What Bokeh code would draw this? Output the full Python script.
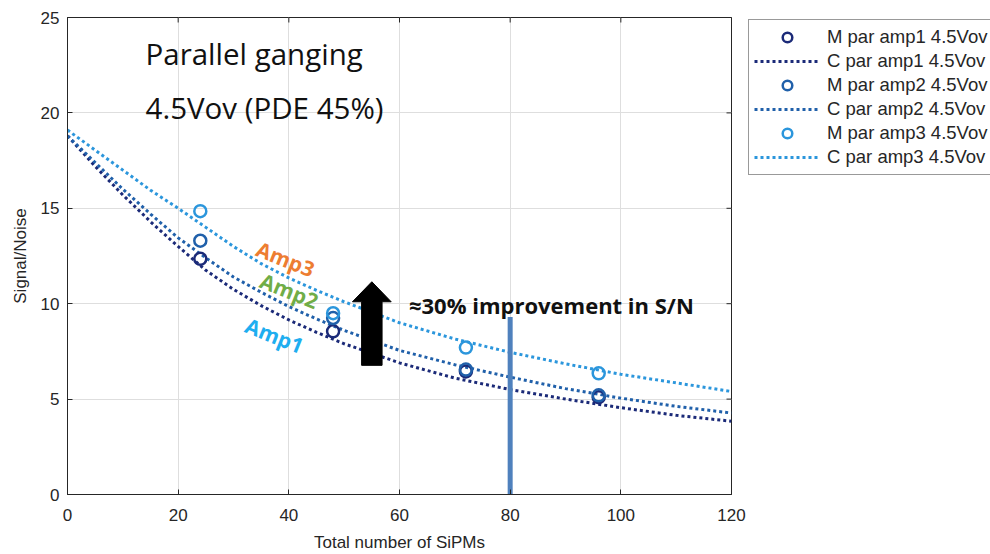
from bokeh.plotting import figure
from bokeh.layouts import row
from bokeh.models import Range1d, Label, Legend, LegendItem, FixedTicker
from bokeh.embed import file_html
from bokeh.resources import INLINE

# ---------------- data ----------------
x_ticks = [0, 20, 40, 60, 80, 100, 120]
y_ticks = [0, 5, 10, 15, 20, 25]

meas_x = [24, 48, 72, 96]
amp1_meas = [12.35, 8.55, 6.45, 5.1]
amp2_meas = [13.3, 9.25, 6.55, 5.2]
amp3_meas = [14.85, 9.5, 7.7, 6.35]

curve_x = [0, 5, 10, 15, 20, 25, 30, 35, 40, 45, 50, 60, 70, 80, 90, 100, 110, 120]
amp1_curve = [18.8, 17.2, 15.7, 14.3, 13.0, 11.75, 10.75, 9.9, 9.15, 8.5, 7.9, 6.9, 6.1, 5.5, 5.0, 4.55, 4.15, 3.84]
amp2_curve = [18.8, 17.4, 16.0, 14.7, 13.45, 12.4, 11.4, 10.6, 9.85, 9.2, 8.6, 7.55, 6.8, 6.15, 5.55, 5.05, 4.62, 4.27]
amp3_curve = [19.1, 18.05, 17.0, 15.95, 15.0, 14.0, 13.0, 12.1, 11.35, 10.7, 10.1, 9.0, 8.15, 7.45, 6.85, 6.3, 5.85, 5.4]

labels_m = ["M par amp1 4.5Vov", "M par amp2 4.5Vov", "M par amp3 4.5Vov"]
labels_c = ["C par amp1 4.5Vov", "C par amp2 4.5Vov", "C par amp3 4.5Vov"]
colors = ["#1b2a78", "#2060aa", "#2b96dc"]

marker_line_x = 80
marker_line_top = 9.3
arrow_x, arrow_y0, arrow_yb, arrow_yt = 55, 6.77, 10.1, 11.15
arrow_shaft_hw, arrow_head_hw = 1.85, 3.5

axis_color = "#262626"
MARKER_SIZE = 12
MARKER_LW = 2.5
CURVE_LW = 3
CURVE_DASH = "3 3"

# ---------------- main figure ----------------
p = figure(width=748, height=554, x_range=Range1d(0, 120), y_range=Range1d(0, 25),
           output_backend="svg", toolbar_location=None,
           min_border_left=67, min_border_right=17, min_border_top=17, min_border_bottom=57)
p.background_fill_color = "white"
p.border_fill_color = "white"
p.outline_line_color = axis_color
p.outline_line_width = 1

for ax in (p.xaxis[0], p.yaxis[0]):
    ax.axis_line_color = axis_color
    ax.major_tick_line_color = axis_color
    ax.major_tick_in = 5
    ax.major_tick_out = 0
    ax.minor_tick_line_color = None
    ax.major_label_text_font = "Liberation Sans"
    ax.major_label_text_font_size = "17px"
    ax.major_label_text_color = axis_color
    ax.axis_label_text_font = "Liberation Sans"
    ax.axis_label_text_font_size = "17px"
    ax.axis_label_text_font_style = "normal"
    ax.axis_label_text_color = axis_color

p.xaxis.ticker = FixedTicker(ticks=x_ticks)
p.yaxis.ticker = FixedTicker(ticks=y_ticks)
p.xaxis.axis_label = "Total number of SiPMs"
p.yaxis.axis_label = "Signal/Noise"
p.xaxis.major_label_standoff = 14
p.xaxis.axis_label_standoff = 9
p.yaxis.major_label_standoff = 8
p.yaxis.axis_label_standoff = 8

p.xgrid.ticker = FixedTicker(ticks=x_ticks)
p.ygrid.ticker = FixedTicker(ticks=y_ticks)
p.grid.grid_line_color = "#dedede"
p.grid.grid_line_width = 1

# inward ticks on the top and right edges (half of each dash is clipped by the frame)
p.scatter([x_ticks[-1]] * len(y_ticks), y_ticks, marker="dash", size=10, line_color=axis_color, line_width=1)
p.scatter(x_ticks, [y_ticks[-1]] * len(x_ticks), marker="dash", angle=1.5708, size=10,
          line_color=axis_color, line_width=1)

curves = [amp1_curve, amp2_curve, amp3_curve]
meas = [amp1_meas, amp2_meas, amp3_meas]
for i in range(3):
    p.line(curve_x, curves[i], line_color=colors[i], line_width=CURVE_LW, line_dash=CURVE_DASH)
for i in range(3):
    p.scatter(meas_x, meas[i], marker="circle", size=MARKER_SIZE, fill_color=None,
              line_color=colors[i], line_width=MARKER_LW)

# vertical marker line at 80
p.segment(x0=[marker_line_x], y0=[0], x1=[marker_line_x], y1=[marker_line_top],
          line_color="#4f81bd", line_width=5)

# black arrow
ax_ = arrow_x
p.patch([ax_ - arrow_shaft_hw, ax_ + arrow_shaft_hw, ax_ + arrow_shaft_hw, ax_ + arrow_head_hw,
         ax_, ax_ - arrow_head_hw, ax_ - arrow_shaft_hw],
        [arrow_y0, arrow_y0, arrow_yb, arrow_yb, arrow_yt, arrow_yb, arrow_yb],
        fill_color="black", line_color="black")

# annotations
p.add_layout(Label(x=14.1, y=23.1, text="Parallel ganging", text_font="Open Sans",
                   text_font_size="29.5px", text_color="#111111", text_baseline="alphabetic"))
p.add_layout(Label(x=14.1, y=20.28, text="4.5Vov (PDE 45%)", text_font="Open Sans",
                   text_font_size="29.5px", text_color="#111111", text_baseline="alphabetic"))
p.add_layout(Label(x=61.7, y=9.95, text="≈30% improvement in S/N", text_font="Open Sans",
                   text_font_size="22px", text_font_style="bold", text_color="#111111",
                   text_baseline="alphabetic"))
amp_angle = -0.38
p.add_layout(Label(x=39.4, y=12.34, text="Amp3", text_font="Open Sans", text_font_size="21px",
                   text_font_style="bold", text_color="#ed7d31", angle=amp_angle,
                   text_align="center", text_baseline="middle"))
p.add_layout(Label(x=40.1, y=10.68, text="Amp2", text_font="Open Sans", text_font_size="21px",
                   text_font_style="bold", text_color="#70ad47", angle=amp_angle,
                   text_align="center", text_baseline="middle"))
p.add_layout(Label(x=37.4, y=8.33, text="Amp1", text_font="Open Sans", text_font_size="21px",
                   text_font_style="bold", text_color="#1eaef0", angle=amp_angle,
                   text_align="center", text_baseline="middle"))

# ---------------- legend panel ----------------
# proxy renderers carry the same data, but the ranges keep them out of view
lf = figure(width=242, height=554, x_range=Range1d(1000, 1001), y_range=Range1d(1000, 1001),
            output_backend="svg", toolbar_location=None, x_axis_type=None, y_axis_type=None,
            min_border=0)
lf.outline_line_color = None
lf.grid.visible = False
lf.background_fill_color = "white"
lf.border_fill_color = "white"

items = []
for i in range(3):
    sr = lf.scatter(meas_x, meas[i], marker="circle", size=MARKER_SIZE, fill_color=None,
                    line_color=colors[i], line_width=MARKER_LW)
    lr = lf.line(curve_x, curves[i], line_color=colors[i], line_width=CURVE_LW, line_dash=CURVE_DASH)
    items.append(LegendItem(label=labels_m[i], renderers=[sr]))
    items.append(LegendItem(label=labels_c[i], renderers=[lr]))

legend = Legend(items=items, location=(0, 319))
legend.margin = 0
legend.padding = 5
legend.spacing = 0
legend.glyph_width = 66
legend.glyph_height = 24
legend.label_height = 24
legend.label_standoff = 7
legend.label_text_font = "Liberation Sans"
legend.label_text_font_size = "18.5px"
legend.label_text_color = axis_color
legend.border_line_color = "#333333"
legend.border_line_width = 1
legend.background_fill_color = "white"
legend.background_fill_alpha = 1
lf.add_layout(legend)

layout = row(p, lf, spacing=0)
open("out.html", "w").write(file_html(layout, INLINE))
